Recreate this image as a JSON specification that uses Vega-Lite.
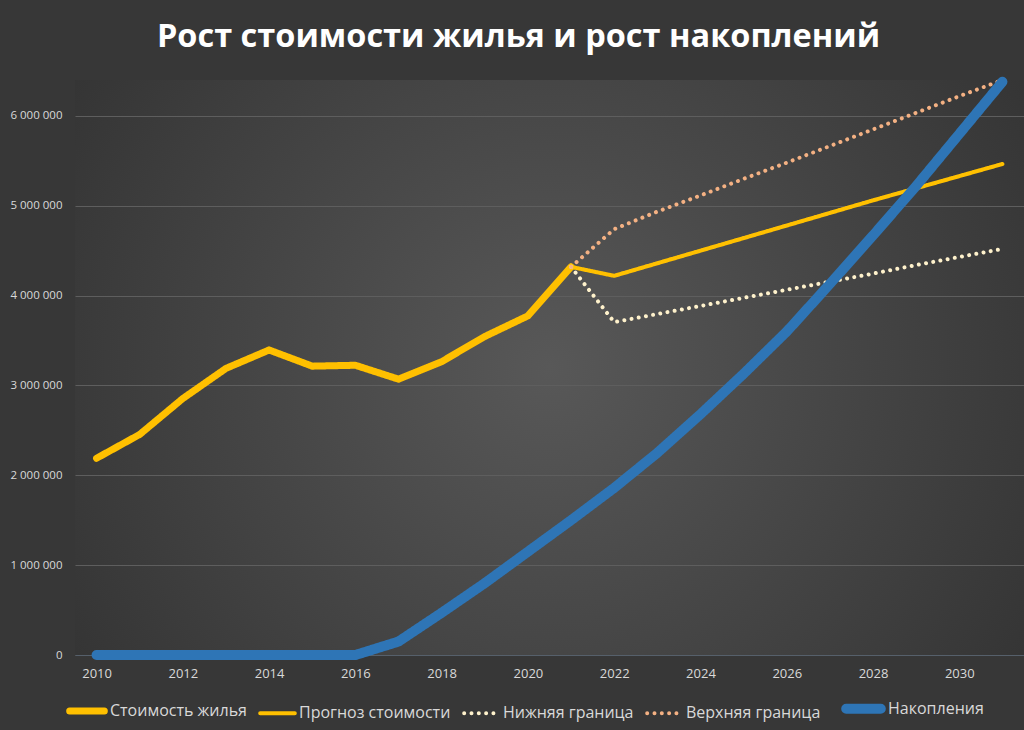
{
  "$schema": "https://vega.github.io/schema/vega-lite/v6.json",
  "width": 949,
  "height": 575,
  "autosize": "none",
  "padding": {"left": 75, "top": 80, "right": 0, "bottom": 75},
  "background": "#373737",
  "title": {
    "text": "Рост стоимости жилья и рост накоплений",
    "font": "Open Sans",
    "fontSize": 32.5,
    "fontWeight": "bold",
    "color": "#ffffff",
    "anchor": "middle",
    "dx": -31,
    "offset": 23
  },
  "config": {
    "locale": {"number": {"decimal": ",", "thousands": " ", "grouping": [3], "currency": ["", ""]}},
    "view": {
      "stroke": null,
      "fill": {"gradient": "radial", "x1": 0.5, "y1": 0.5, "r1": 0, "x2": 0.5, "y2": 0.5, "r2": 0.7,
        "stops": [{"offset": 0, "color": "#585858"}, {"offset": 1, "color": "#2e2e2e"}]}
    },
    "legend": {
      "title": null, "orient": "none", "legendX": -9, "legendY": 606, "direction": "horizontal",
      "symbolType": "stroke", "symbolSize": 1200, "labelOffset": 2, "columnPadding": 5,
      "labelColor": "#d9d9d9", "labelFont": "Open Sans", "labelFontSize": 16
    }
  },
  "data": {"values": [
    {"year": 2010, "series": "Стоимость жилья", "value": 2190000},
    {"year": 2011, "series": "Стоимость жилья", "value": 2455000},
    {"year": 2012, "series": "Стоимость жилья", "value": 2855000},
    {"year": 2013, "series": "Стоимость жилья", "value": 3190000},
    {"year": 2014, "series": "Стоимость жилья", "value": 3395000},
    {"year": 2015, "series": "Стоимость жилья", "value": 3215000},
    {"year": 2016, "series": "Стоимость жилья", "value": 3225000},
    {"year": 2017, "series": "Стоимость жилья", "value": 3070000},
    {"year": 2018, "series": "Стоимость жилья", "value": 3265000},
    {"year": 2019, "series": "Стоимость жилья", "value": 3545000},
    {"year": 2020, "series": "Стоимость жилья", "value": 3775000},
    {"year": 2021, "series": "Стоимость жилья", "value": 4320000},
    {"year": 2021, "series": "Прогноз стоимости", "value": 4320000},
    {"year": 2022, "series": "Прогноз стоимости", "value": 4220000},
    {"year": 2023, "series": "Прогноз стоимости", "value": 4360000},
    {"year": 2024, "series": "Прогноз стоимости", "value": 4500000},
    {"year": 2025, "series": "Прогноз стоимости", "value": 4640000},
    {"year": 2026, "series": "Прогноз стоимости", "value": 4780000},
    {"year": 2027, "series": "Прогноз стоимости", "value": 4920000},
    {"year": 2028, "series": "Прогноз стоимости", "value": 5060000},
    {"year": 2029, "series": "Прогноз стоимости", "value": 5195000},
    {"year": 2030, "series": "Прогноз стоимости", "value": 5330000},
    {"year": 2031, "series": "Прогноз стоимости", "value": 5465000},
    {"year": 2021, "series": "Нижняя граница", "value": 4320000},
    {"year": 2022, "series": "Нижняя граница", "value": 3705000},
    {"year": 2023, "series": "Нижняя граница", "value": 3795000},
    {"year": 2024, "series": "Нижняя граница", "value": 3885000},
    {"year": 2025, "series": "Нижняя граница", "value": 3975000},
    {"year": 2026, "series": "Нижняя граница", "value": 4065000},
    {"year": 2027, "series": "Нижняя граница", "value": 4155000},
    {"year": 2028, "series": "Нижняя граница", "value": 4245000},
    {"year": 2029, "series": "Нижняя граница", "value": 4340000},
    {"year": 2030, "series": "Нижняя граница", "value": 4430000},
    {"year": 2031, "series": "Нижняя граница", "value": 4520000},
    {"year": 2021, "series": "Верхняя граница", "value": 4320000},
    {"year": 2022, "series": "Верхняя граница", "value": 4740000},
    {"year": 2023, "series": "Верхняя граница", "value": 4935000},
    {"year": 2024, "series": "Верхняя граница", "value": 5115000},
    {"year": 2025, "series": "Верхняя граница", "value": 5300000},
    {"year": 2026, "series": "Верхняя граница", "value": 5480000},
    {"year": 2027, "series": "Верхняя граница", "value": 5665000},
    {"year": 2028, "series": "Верхняя граница", "value": 5850000},
    {"year": 2029, "series": "Верхняя граница", "value": 6035000},
    {"year": 2030, "series": "Верхняя граница", "value": 6220000},
    {"year": 2031, "series": "Верхняя граница", "value": 6400000},
    {"year": 2010, "series": "Накопления", "value": 0},
    {"year": 2011, "series": "Накопления", "value": 0},
    {"year": 2012, "series": "Накопления", "value": 0},
    {"year": 2013, "series": "Накопления", "value": 0},
    {"year": 2014, "series": "Накопления", "value": 0},
    {"year": 2015, "series": "Накопления", "value": 0},
    {"year": 2016, "series": "Накопления", "value": 0},
    {"year": 2017, "series": "Накопления", "value": 150000},
    {"year": 2018, "series": "Накопления", "value": 470000},
    {"year": 2019, "series": "Накопления", "value": 800000},
    {"year": 2020, "series": "Накопления", "value": 1150000},
    {"year": 2021, "series": "Накопления", "value": 1500000},
    {"year": 2022, "series": "Накопления", "value": 1860000},
    {"year": 2023, "series": "Накопления", "value": 2250000},
    {"year": 2024, "series": "Накопления", "value": 2680000},
    {"year": 2025, "series": "Накопления", "value": 3130000},
    {"year": 2026, "series": "Накопления", "value": 3600000},
    {"year": 2027, "series": "Накопления", "value": 4130000},
    {"year": 2028, "series": "Накопления", "value": 4670000},
    {"year": 2029, "series": "Накопления", "value": 5220000},
    {"year": 2030, "series": "Накопления", "value": 5800000},
    {"year": 2031, "series": "Накопления", "value": 6380000}
  ]},
  "encoding": {
    "x": {
      "field": "year", "type": "quantitative",
      "scale": {"domain": [2009.5, 2031.5], "nice": false, "zero": false},
      "axis": {
        "title": null, "values": [2010, 2012, 2014, 2016, 2018, 2020, 2022, 2024, 2026, 2028, 2030],
        "format": "d", "grid": false, "ticks": false, "domainColor": "#56606b", "domainWidth": 1,
        "labelColor": "#d9d9d9", "labelFont": "Open Sans", "labelFontSize": 13, "labelPadding": 12
      }
    },
    "y": {
      "field": "value", "type": "quantitative",
      "scale": {"domain": [0, 6400000], "nice": false},
      "axis": {
        "title": null, "values": [0, 1000000, 2000000, 3000000, 4000000, 5000000, 6000000],
        "format": ",d", "domain": false, "ticks": false, "gridColor": "#5e5e5e", "gridWidth": 1,
        "labelColor": "#d9d9d9", "labelFont": "Open Sans", "labelFontSize": 11.5, "labelPadding": 13
      }
    },
    "color": {
      "field": "series", "type": "nominal",
      "scale": {
        "domain": ["Стоимость жилья", "Прогноз стоимости", "Нижняя граница", "Верхняя граница", "Накопления"],
        "range": ["#ffc000", "#ffc000", "#fff2cc", "#f4b183", "#2e75b6"]
      },
      "legend": {"encode": {"symbols": {"update": {
        "strokeCap": {"value": "round"},
        "strokeWidth": {"signal": "datum.value == 'Накопления' ? 10 : datum.value == 'Стоимость жилья' ? 7 : 4"}
      }}}}
    },
    "strokeDash": {
      "field": "series", "type": "nominal",
      "scale": {
        "domain": ["Стоимость жилья", "Прогноз стоимости", "Нижняя граница", "Верхняя граница", "Накопления"],
        "range": [[1, 0], [1, 0], [0.01, 7.3], [0.01, 7.3], [1, 0]]
      },
      "legend": {"encode": {"symbols": {"update": {
        "strokeCap": {"value": "round"},
        "strokeWidth": {"signal": "datum.value == 'Накопления' ? 10 : datum.value == 'Стоимость жилья' ? 7 : 4"}
      }}}}
    },
    "strokeWidth": {
      "field": "series", "type": "nominal",
      "scale": {
        "type": "ordinal",
        "domain": ["Стоимость жилья", "Прогноз стоимости", "Нижняя граница", "Верхняя граница", "Накопления"],
        "range": [7, 4, 4, 4, 10]
      },
      "legend": null
    }
  },
  "layer": [
    {
      "transform": [{"filter": "datum.series != 'Накопления'"}],
      "mark": {"type": "line", "strokeCap": "round", "strokeJoin": "round"}
    },
    {
      "transform": [{"filter": "datum.series == 'Накопления'"}],
      "mark": {"type": "line", "strokeCap": "round", "strokeJoin": "round"}
    }
  ]
}
